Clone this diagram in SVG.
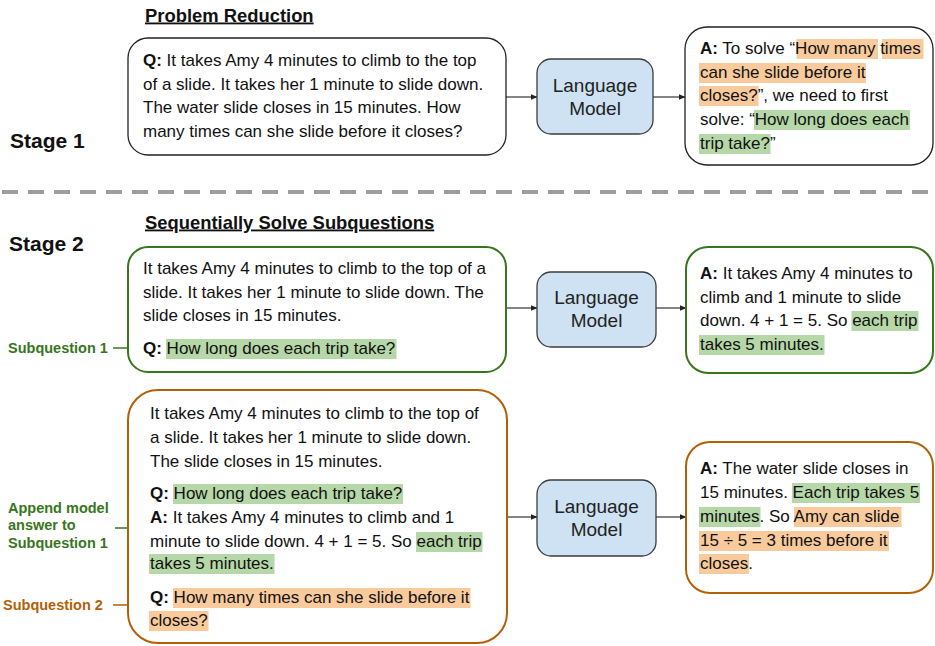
<svg xmlns="http://www.w3.org/2000/svg" width="935" height="646" viewBox="0 0 935 646">
  <defs>
    <marker id="arrow" markerWidth="7" markerHeight="6" refX="6.5" refY="3" orient="auto" markerUnits="userSpaceOnUse">
      <path d="M0,0 L7,3 L0,6 z" fill="#222"/>
    </marker>
    <style>
      text { font-family: "Liberation Sans", Arial, sans-serif; fill: #111; }
      .body { font-size: 17px; }
      .b { font-weight: bold; }
      .title { font-size: 18.4px; font-weight: bold; text-decoration: underline; }
      .stage { font-size: 21px; font-weight: bold; }
      .lbl { font-size: 14.5px; font-weight: bold; }
      .lbl-g { fill: #38761d; }
      .lbl-o { fill: #b45f06; }
      .lm-text { font-size: 19px; text-anchor: middle; fill: #222; }
      .box-k { fill: #fff; stroke: #222; stroke-width: 1.3; }
      .box-g { fill: #fff; stroke: #38761d; stroke-width: 2; }
      .box-o { fill: #fff; stroke: #b45f06; stroke-width: 2; }
      .lm { fill: #cfe2f3; stroke: #3c3c3c; stroke-width: 1.3; }
      .hl-g { fill: #b6d7a8; }
      .hl-o { fill: #f9cb9c; }
      .conn { stroke: #222; stroke-width: 1.1; fill: none; }
      .tick-g { stroke: #38761d; stroke-width: 1.5; }
      .tick-o { stroke: #b45f06; stroke-width: 1.5; }
      .divider { stroke: #9e9e9e; stroke-width: 4; stroke-dasharray: 16 10; }
    </style>
  </defs>

  <rect width="935" height="646" fill="#fff"/>

  <!-- headings -->
  <g id="headings">
    <text class="title" x="145" y="21.5">Problem Reduction</text>
    <text class="stage" x="10" y="147.5">Stage 1</text>
    <text class="title" x="145" y="228.5">Sequentially Solve Subquestions</text>
    <text class="stage" x="9" y="250.5">Stage 2</text>
  </g>

  <line class="divider" x1="2" y1="192" x2="935" y2="192"/>

  <!-- connectors -->
  <g id="connectors">
    <line class="conn" x1="506" y1="97" x2="537" y2="97" marker-end="url(#arrow)"/>
    <line class="conn" x1="653" y1="97" x2="685" y2="97" marker-end="url(#arrow)"/>
    <line class="conn" x1="506" y1="308" x2="537" y2="308" marker-end="url(#arrow)"/>
    <line class="conn" x1="656" y1="308" x2="686" y2="308" marker-end="url(#arrow)"/>
    <line class="conn" x1="507" y1="517" x2="537" y2="517" marker-end="url(#arrow)"/>
    <line class="conn" x1="656" y1="517" x2="686" y2="517" marker-end="url(#arrow)"/>
    <line class="tick-g" x1="113" y1="348" x2="138" y2="348"/>
    <line class="tick-g" x1="115" y1="528" x2="138" y2="528"/>
    <line class="tick-o" x1="113" y1="605" x2="138" y2="605"/>
  </g>

  <!-- Stage 1: question -->
  <g id="s1-question">
    <rect class="box-k" x="128" y="38" width="378" height="117" rx="20"/>
    <text class="body" x="143" y="66"><tspan class="b">Q:</tspan> It takes Amy 4 minutes to climb to the top</text>
    <text class="body" x="143" y="90">of a slide. It takes her 1 minute to slide down.</text>
    <text class="body" x="143" y="113">The water slide closes in 15 minutes. How</text>
    <text class="body" x="143" y="137">many times can she slide before it closes?</text>
  </g>

  <g id="s1-model">
    <rect class="lm" x="537" y="59" width="116" height="75" rx="14"/>
    <text class="lm-text" x="595" y="92">Language</text>
    <text class="lm-text" x="595" y="115">Model</text>
  </g>

  <g id="s1-answer">
    <rect class="box-k" x="685" y="27" width="248" height="138" rx="22"/>
    <rect class="hl-o" x="796.5" y="39" width="81.5" height="20"/>
    <rect class="hl-o" x="882" y="39" width="41.5" height="20"/>
    <rect class="hl-o" x="699" y="63" width="167" height="20"/>
    <rect class="hl-o" x="699" y="86" width="59.5" height="20"/>
    <rect class="hl-g" x="754" y="110" width="156" height="20"/>
    <rect class="hl-g" x="699" y="134" width="71.5" height="20"/>
    <text class="body" x="700" y="54"><tspan class="b">A:</tspan> To solve “How many times</text>
    <text class="body" x="700" y="78">can she slide before it</text>
    <text class="body" x="700" y="101">closes?”, we need to first</text>
    <text class="body" x="700" y="125">solve: “How long does each</text>
    <text class="body" x="700" y="149">trip take?”</text>
  </g>

  <!-- Stage 2: first subquestion -->
  <g id="s2-question1">
    <rect class="box-g" x="128" y="247" width="378" height="125" rx="20"/>
    <rect class="hl-g" x="166" y="339" width="230.5" height="20"/>
    <text class="body" x="143" y="274">It takes Amy 4 minutes to climb to the top of a</text>
    <text class="body" x="143" y="298">slide. It takes her 1 minute to slide down. The</text>
    <text class="body" x="143" y="321">slide closes in 15 minutes.</text>
    <text class="body" x="143" y="354"><tspan class="b">Q:</tspan> How long does each trip take?</text>
  </g>

  <g id="label-subq1">
    <text class="lbl lbl-g" x="8" y="353">Subquestion 1</text>
  </g>

  <g id="s2-model1">
    <rect class="lm" x="537" y="272" width="119" height="75" rx="14"/>
    <text class="lm-text" x="596.5" y="304">Language</text>
    <text class="lm-text" x="596.5" y="327">Model</text>
  </g>

  <g id="s2-answer1">
    <rect class="box-g" x="686" y="247" width="247" height="126" rx="22"/>
    <rect class="hl-g" x="851.5" y="311" width="67" height="20"/>
    <rect class="hl-g" x="699" y="335" width="125.5" height="20"/>
    <text class="body" x="700" y="279"><tspan class="b">A:</tspan> It takes Amy 4 minutes to</text>
    <text class="body" x="700" y="303">climb and 1 minute to slide</text>
    <text class="body" x="700" y="326">down. 4 + 1 = 5. So each trip</text>
    <text class="body" x="700" y="350">takes 5 minutes.</text>
  </g>

  <!-- Stage 2: second subquestion -->
  <g id="s2-question2">
    <rect class="box-o" x="128" y="390" width="379" height="253" rx="30"/>
    <rect class="hl-g" x="173" y="484" width="230" height="20"/>
    <rect class="hl-g" x="416" y="532" width="66.5" height="20"/>
    <rect class="hl-g" x="149" y="554" width="125.5" height="20"/>
    <rect class="hl-o" x="173" y="588" width="297.5" height="20"/>
    <rect class="hl-o" x="149" y="611" width="59.5" height="20"/>
    <text class="body" x="150" y="419">It takes Amy 4 minutes to climb to the top of</text>
    <text class="body" x="150" y="443">a slide. It takes her 1 minute to slide down.</text>
    <text class="body" x="150" y="467">The slide closes in 15 minutes.</text>
    <text class="body" x="150" y="499"><tspan class="b">Q:</tspan> How long does each trip take?</text>
    <text class="body" x="150" y="523"><tspan class="b">A:</tspan> It takes Amy 4 minutes to climb and 1</text>
    <text class="body" x="150" y="547">minute to slide down. 4 + 1 = 5. So each trip</text>
    <text class="body" x="150" y="569">takes 5 minutes.</text>
    <text class="body" x="150" y="603"><tspan class="b">Q:</tspan> How many times can she slide before it</text>
    <text class="body" x="150" y="626">closes?</text>
  </g>

  <g id="label-append">
    <text class="lbl lbl-g" x="8" y="513">Append model</text>
    <text class="lbl lbl-g" x="8" y="530">answer to</text>
    <text class="lbl lbl-g" x="8" y="547.5">Subquestion 1</text>
  </g>

  <g id="label-subq2">
    <text class="lbl lbl-o" x="3" y="610">Subquestion 2</text>
  </g>

  <g id="s2-model2">
    <rect class="lm" x="537" y="480" width="119" height="76" rx="14"/>
    <text class="lm-text" x="596.5" y="513">Language</text>
    <text class="lm-text" x="596.5" y="536">Model</text>
  </g>

  <g id="s2-answer2">
    <rect class="box-o" x="686" y="442" width="247" height="151" rx="24"/>
    <rect class="hl-g" x="792" y="483" width="128" height="20"/>
    <rect class="hl-g" x="699" y="507" width="61.5" height="20"/>
    <rect class="hl-o" x="794" y="507" width="107.5" height="20"/>
    <rect class="hl-o" x="699" y="531" width="190" height="20"/>
    <rect class="hl-o" x="699" y="554" width="50" height="20"/>
    <text class="body" x="700" y="474"><tspan class="b">A:</tspan> The water slide closes in</text>
    <text class="body" x="700" y="498">15 minutes. Each trip takes 5</text>
    <text class="body" x="700" y="522">minutes. So Amy can slide</text>
    <text class="body" x="700" y="546">15 ÷ 5 = 3 times before it</text>
    <text class="body" x="700" y="569">closes.</text>
  </g>
</svg>
